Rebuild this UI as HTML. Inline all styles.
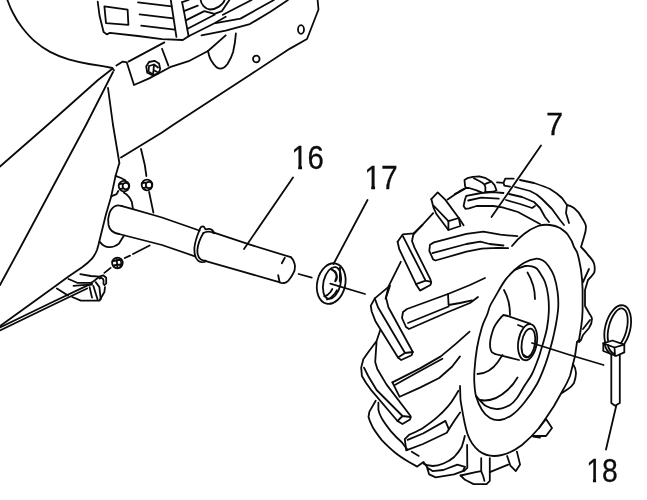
<!DOCTYPE html>
<html>
<head>
<meta charset="utf-8">
<title>Parts diagram</title>
<style>
html,body{margin:0;padding:0;background:#fff;}
body{width:647px;height:500px;overflow:hidden;font-family:"Liberation Sans",sans-serif;}
svg{display:block;}
text{font-family:"Liberation Sans",sans-serif;fill:#0a0a0a;stroke:#0a0a0a;stroke-width:0.25px;}
</style>
</head>
<body>
<svg width="647" height="500" viewBox="0 0 647 500">
<rect x="0" y="0" width="647" height="500" fill="#ffffff"/>
<g fill="none" stroke="#0a0a0a" stroke-width="1.8" stroke-linecap="round" stroke-linejoin="round">

<!-- ===== MACHINE BODY (upper left) ===== -->
<g id="machine">
<path d="M7.4,0 C9,4.5 10.8,9 13,13 C15.5,18 18.5,23 22.3,27.8 C26,32.5 30,37.5 35.3,41.7 C39.5,45.5 44.5,49 50.1,51.9 C56,55 62,57.5 68.6,59.4 C75,61.2 82,62.8 89,64 L102.8,66.2 L112.4,68 L114,70.4"/>
<path d="M116.4,65.6 L122.8,61.6 L126.8,62.4 L132.4,80 L134,85 L149.2,78.4 L170,67.2 L188.6,61.2 L208,51 L225.7,35.3"/>
<path d="M128.4,61.6 L164.4,42.4"/>
<path d="M162,48.8 L168.4,65.6"/>
<path d="M112.4,68.8 L98,80 L47.5,125 L0,166.5"/>
<path d="M113,72 L86,125 L19,250 L0,285"/>
<path d="M108,88 L113,125 L119.4,163 L118.3,166.5 L115.6,175.8 L111.2,196.4 L105.8,215 L98.4,245 L97,250 C95.5,254 94,256 92,258.7 C89,262 86,264.5 82.1,267.3 L68.5,276.6 L50,290 L7.4,320.8 L0,326"/>
<path d="M115.6,175.8 L121,178 L125.3,180.2 M111.2,196.4 L116.6,194.2 L118.3,191"/>
<path d="M121,157.5 L162,132.5 L173,125 L249.8,75 L290,48.6 L307,39 L318.5,9.5 L317.6,0"/>
<path d="M141,149 L144.8,165 L146.4,176 M149.1,192 L153.4,212.6"/>
<circle cx="256.3" cy="59" r="3.3"/>
<ellipse cx="301" cy="29.5" rx="3" ry="4.3"/>
<!-- engine box -->
<path d="M97.7,1.6 L99.6,16 L103.6,32 L106.8,34.4 L110,32.8 L138,36 L162,39.2 L182.8,40 L188.6,36.2"/>
<path d="M104.4,6.4 L127.6,9.6 L128.4,24.8 L106,23.2 Z"/>
<path d="M138,2.4 L171.6,6.4 M139.6,14.4 L173.2,18.4 M141.2,25.6 L174.8,29.6"/>
<path d="M170.8,0 L176.4,36.8"/>
<path d="M182,1.9 L183.9,11.1 L188.6,36.2"/>
<path d="M183,1.9 L188.6,0 M183.9,11.1 L197.8,5.6 M185.8,20.4 L204.3,11.1 L214.5,13.9 M187.6,28.8 L214.5,14.8 M188.6,36.2 L214.5,23.2 L225.7,16.7"/>
<path d="M200.6,0 C201,4 205,9 210,9.5 C216,9.5 223,5 224.7,0"/>
<path d="M214.5,13.9 L221.9,11.1 L229.4,0"/>
<path d="M222.9,14.8 L251.6,0"/>
<path d="M215.5,23.2 L240.5,18.6 L273.9,0"/>
<path d="M201.5,35.3 L225.7,30.6 L249.8,24.1 L270,12 L288,0"/>
<path d="M208,51 C209,56 210,59 211.7,61.2 C214,65 217,68.5 220.1,68.7 C223,68.5 226,66 227.5,64 C230,60 232,56 233.1,52 C234.5,46 235.5,40 235.9,33.4"/>
<!-- bolt 1 -->
<path d="M149,62 L154.5,60.8 L159,63.5 L160.2,69 L158.3,73.5 L152.5,75.2 L147.3,72.8 L146.2,66.5 Z"/>
<path d="M149,66 L154,64.5 L158,67.5 M149,66 L148.5,71.5 L153,74.5 M154,64.5 L153.5,70 L153,74.5 M153.5,70 L158,72.5"/>
</g>

<!-- ===== SHAFT 16 ===== -->
<g id="shaft">
<path d="M122,206.1 C119,205.3 118,205.2 116.6,205.6 C113,206.5 111,209 109.5,213 C108,217 107.8,221 108.5,225 C109.5,230 113,233 119,234"/>
<path d="M122,206.1 L132.9,209.2 L162,217.5 L199.3,230.5"/>
<path d="M119,234 L162,245 L195,256.3"/>
<path d="M212.4,232.2 L250,244.6 L290.8,257.2"/>
<!-- collar -->
<path d="M199.3,230.5 C197.5,235 194.8,242 194.4,248 C194.2,254 195.5,258.5 198,260.6 C200,262.3 203.5,262.6 205.8,261.2"/>
<path d="M203.4,233 C201,237 197.8,244 197.4,250 C197.2,255 198.6,258 201,259.6 C202.5,260.5 204.5,260.8 205.8,260.6"/>
<path d="M199.6,230.6 C199.8,228 201.2,226.3 203.2,226.3 C205,226.6 204.6,229.6 206,229.4 C208,228.6 210.5,228.8 212,230 C213,231 213.8,232 214.2,233.2"/>
<path d="M203.4,233 C206,231.5 210,231 214.2,233.2"/>
<path d="M205.8,261.2 L240,270.8 L280,282.4"/>
<path d="M290.8,257.2 C293,259 294.5,262 295,266.2 C295,270 294.3,272 293.2,273.4 C292,276 290,278.5 288.4,280.6 C287,282 285.5,283 284.2,283 C282.5,283.2 281,283 280,282.4"/>
<path d="M284.8,257.8 L281.8,263.2 M278.2,275.2 L279.4,281.2"/>
<path d="M298.6,274 L311.8,277.6"/>
<path d="M123.7,192.6 C126,194 127.5,195 128.5,196.4 C130,198 131,200 131.8,201.8 L132.9,208.3"/>
<path d="M100,242 C104,248 112,249 119,243.6 L124,235.6"/>
<g id="bolts">
<circle cx="124" cy="186.1" r="5.3"/><circle cx="125.8" cy="186.1" r="3.2"/><path d="M119.6,184 L122.6,183.6 M120,189 L122.8,188.6"/>
<circle cx="147" cy="185" r="5.3"/><circle cx="149" cy="185" r="3.2"/><path d="M142.6,183 L145.8,182.6 M143,188 L146,187.6"/>
<circle cx="117.4" cy="263" r="5.3"/><path d="M113,261 L121.5,259.5 M113.5,265.5 L122,264 M116.5,258 L117.5,268 M119.5,258.5 C121.5,261 121.5,265 120,267.5"/>
</g>
<path d="M124.8,258 L130,255.6 M133,254 L149.6,245.5"/>
<path d="M110.6,267.9 L104.4,272.9"/>
<!-- small part bottom-left -->
<path d="M80.3,274.1 L90.8,276 L99.4,276.6 L103.2,275.3 L106.2,277.8 L106.2,283.4 L104.4,285.2"/>
<path d="M68.5,279 L77.2,282.8 L90.8,282.8 L93.3,281.5 L99.4,276.6"/>
<path d="M56.9,288.5 L68,295.5"/>
<path d="M72.2,297 L80.9,300.7 L99.4,300.7 L104.4,292 L105,287.1"/>
<path d="M89.6,287.1 L92,297.6 M93.3,285.8 L97.6,299.4 M95.7,282.1 L99.4,287.1 L100.7,299.4"/>
<path d="M73.5,285.8 L82.1,285.2 L92,284.6"/>
<path d="M99.5,278.5 C101,277.5 103,278 103.5,280 L103.5,284"/>
<path d="M0,327.5 L50,303.2 L87.1,285.6 L92,283.6 M0,330.4 L50,306.2 L87.1,288.5"/>
</g>


<!-- ===== LEADERS ===== -->
<g id="leaders">
<path d="M293,177.5 L244,249"/>
<path d="M367.5,200 L333.5,264"/>
<path d="M541,145.5 L491.5,217"/>
<path d="M616.3,405.5 L606,449.5"/>
</g>

<!-- ===== RING 17 ===== -->
<g id="ring">
<ellipse cx="331.2" cy="283.6" rx="14" ry="20.6" transform="rotate(13 331.2 283.6)"/>
<ellipse cx="332" cy="283" rx="8.6" ry="16.2" transform="rotate(13 332 283)"/>
<path d="M340,267.5 L339.8,281.5"/>
<path d="M331.4,269.3 C334,270.5 335.5,272 336.3,274 C337,276 336.8,279 335.3,281.2" stroke-width="2.2"/>
<path d="M324.3,296.3 C326,296 329,294 330.5,292 L332.3,289"/>
<path d="M327,299.5 C330,298.5 333,296 335,293.5 L337,290.2"/>
<path d="M330.3,283.6 L365,294"/>
</g>

<!-- ===== WHEEL 7 ===== -->
<g id="wheel">
<!-- lug A -->
<path d="M482.1,192.6 L476.6,190.3 L469.1,188 L465.9,188 L465,185.6 L464.5,180 L467.3,178.2 L472.8,176.8 L479.3,176.3 L485.8,178.2 L491.4,181.5 L494.6,185.2 L496.5,190.3 L493.3,191.7 L484.9,192.1"/>
<path d="M473.8,178.2 L479.3,181 C481.5,182 483,183 484,184.2 C485,185.3 485.3,186.5 485.4,187.5 L485.4,191.7 M485.4,183.8 L490.5,181.9"/>
<path d="M455,193.8 L458,192.6 L464.5,188.9"/>
<path d="M497,182.4 L503.5,182.8 L505.3,178.7 L513.7,178.7 M503.5,182.8 L504.4,185.6 L510,186.6"/>
<!-- lug B -->
<path d="M431.3,199.1 L437.7,192.4 L445.2,199.6 L458.8,218 L463.6,225.2"/>
<path d="M431.3,199.1 L433.5,207.6 L436.4,214 L448.4,230 L460.4,226 L458.8,218 L448.4,221.2 L434,206"/>
<path d="M448.4,221.2 L448.4,230"/>
<path d="M433.2,213.2 L414,234"/>
<path d="M447.6,199.6 L460.4,190.8 L465.2,188.4"/>
<!-- lug C -->
<path d="M397.6,241.8 L402.9,234.3 L413.6,233.3 L422.4,225"/>
<path d="M397.6,241.8 L399.2,249 L416,284.2 L420,290.6 L430.4,285 L431.2,282.6 L430.4,279.4 L414.4,247.4 L412,241 L413.6,233.3"/>
<path d="M402.9,236.2 L425.6,280.6 L431.2,281.8 M416,284.2 L425.6,280.6"/>
<path d="M400.8,261.8 L388.8,285.8 L385.6,298.6"/>
<!-- lug D -->
<path d="M390,285.6 L374.8,298.4 L370.8,305.6 L371.6,311.2 L375.6,321.6 L398,357.6 L401.2,360 L411.6,355.2 L412.8,352 L388.4,307.2 L386,297.6 L390,285.6"/>
<path d="M374.8,298.4 L378,307.2 L405,353 L412.8,352 M398,357.6 L405,353"/>
<!-- lug E -->
<path d="M380.1,330.5 L376.6,341 L368.2,352.2 L363.3,359.2 L361.2,367.6 L361.9,376 L366.1,383 L370.8,389.6 L397.5,421 L402.5,424 L410,419.5 L410.8,417 L410,415.2 L386.4,384.4 L377.3,369 L375.2,362 L376.6,341"/>
<path d="M364,367.6 L368.2,376 L376.6,390 L402.5,416 L410.5,417 M397.5,421 L402.5,416"/>
<!-- tire top outline -->
<path d="M520,180 L534,183 C540,185 546,187 550,189 C555,192 559,195 562,198 L567,205 L566,213 L569,223"/>
<path d="M515,187 L530,191 C535,193 539,196 542,199 L552,209 L560,220 L564,225"/>
<path d="M509,194 L522,197 L534,202 L540,208 L545,217 L549,222"/>
<path d="M506,200 L520,204 L532,208 L535,206"/>
<path d="M567,205 C570,205.5 572,206.5 574,208 C578,211 580,214 582,218 C584,221 586,224 586,227 C586,231 585,234 584,237 L581,247 C584,250 586,252 588,255 C591,258 594,262 594.4,265 C595,269 595,271 594,273 C592,276 590,278 588,280 L585,290 L585,306 L589,313 C591,316 592,317 592,319 C592,323 591,325 589,328 L583,335 L581,340 L579,342"/>
<path d="M589,269 L583,282 M590,320 L583,329"/>
<path d="M573,364 C575,367 576,370 576,373 C576,377 575,380 574,383 C572,386 570,388 568,389 L562,393"/>
<path d="M539,428 L546,419 L552,428 L546,436 L533,436"/>
<!-- tire sidewall arc -->
<path d="M512,246 C516,241 520,237 524,234 C529,230 534,227.5 538,226 C542,224.8 546,224.5 550,225 C554,225.5 557,226.5 560,228 C563,230 566,232 568,235 C571,239 573,243 574,247 L577,252 C579,258 580,264 581,270 C582,277 582.5,283 582.6,290 L582.6,310 C582.5,316 582,322 581,328 L579,340 L577,342 L575,356 L573,364 L570,376 C568,381 566,385 563,390 L554,406 L546,418 L539,428 C534,434 528,440 522,445 C514,451 504,456 494,456 C488,456 483,454 479,451 C474,447 470,441 467.5,434 C464.5,425 462.5,412 460.5,400 L460,386"/>
<!-- rim -->
<path d="M535.4,258.8 C532.3,259.2 527.7,260.9 524.2,262.8 C520.7,264.7 517.8,267.1 514.6,270.0 C511.4,272.9 508.2,276.0 505.0,280.4 C501.8,284.8 497.9,292.1 495.4,296.4 C492.9,300.7 491.3,303.1 490.0,306.0 C488.7,308.9 488.7,310.5 487.4,314.0 C486.1,317.5 483.7,321.3 482.0,327.0 C480.3,332.7 478.2,340.8 477.0,348.0 C475.8,355.2 474.9,364.3 474.5,370.0 C474.1,375.7 474.1,377.7 474.3,382.0 C474.6,386.3 474.7,391.3 476.0,396.0 C477.3,400.7 479.7,406.3 482.0,410.0 C484.3,413.7 487.0,416.3 490.0,418.0 C493.0,419.7 496.3,420.5 500.0,420.0 C503.7,419.5 508.0,417.8 512.0,415.0 C516.0,412.2 519.8,408.2 524.0,403.0 C528.2,397.8 533.4,390.5 537.0,384.0 C540.6,377.5 543.2,370.3 545.5,364.0 C547.8,357.7 549.7,350.7 551.0,346.0 C552.3,341.3 552.7,339.7 553.5,336.0 C554.3,332.3 555.2,328.7 556.0,324.0 C556.8,319.3 557.9,313.3 558.2,308.0 C558.5,302.7 558.3,297.3 557.6,292.0 C556.9,286.7 555.5,280.3 554.0,276.0 C552.5,271.7 550.3,268.6 548.5,266.0 C546.7,263.4 545.2,261.7 543.0,260.5 C540.8,259.3 538.5,258.4 535.4,258.8 Z"/>
<path d="M514.6,270.0 C516.5,269.3 522.3,266.4 525.8,266.0 C529.3,265.6 533.0,266.4 535.4,267.6 C537.8,268.8 538.4,270.6 540.0,273.0 C541.6,275.4 543.6,278.2 545.0,282.0 C546.4,285.8 547.6,291.0 548.2,296.0 C548.8,301.0 549.0,306.7 548.8,312.0 C548.6,317.3 547.8,323.3 547.0,328.0 C546.2,332.7 545.0,336.3 544.0,340.0 C543.0,343.7 541.9,347.0 541.0,350.0 C540.1,353.0 540.0,354.0 538.5,358.0 C537.0,362.0 534.4,369.2 532.0,374.0 C529.6,378.8 526.5,382.5 524.0,386.5 C521.5,390.5 519.3,394.9 517.0,398.0 C514.7,401.1 513.2,403.2 510.0,405.0 C506.8,406.8 502.0,408.8 498.0,409.0 C494.0,409.2 489.7,408.2 486.0,406.0 C482.3,403.8 477.7,397.7 476.0,396.0"/>
<path d="M504,290 C508,297 510,305 510,315"/>
<path d="M527.5,272.5 C532,280 535,290 535,299"/>
<path d="M480,400 C490,402 500,397 507.5,390 C512,386 515,382 517.5,377.5"/>
<path d="M477.5,374 C485,374 493,369 497.5,362.5 L502.5,355"/>
<!-- hub -->
<path d="M501,317.4 L503.4,315 L508,316 L530,323.6 M495,354 L519,360"/>
<path d="M501,317.4 C497,322 494,327 493,330 C491,336 490,340 490,344 C490,348 491,351 492,352.3 L495,354"/>
<ellipse cx="527.6" cy="342.2" rx="9.3" ry="18.2" transform="rotate(9 527.6 342.2)"/>
<ellipse cx="528.4" cy="343" rx="6.6" ry="14.6" transform="rotate(9 528.4 343)"/>
<path d="M524,355 C526,357.5 529,357.5 531,354.5"/>
<path d="M518,325 L523,327"/>
<path d="M532,343 L570,355 L603.6,365"/>
<!-- grooves -->
<path d="M503.5,193 L493.3,192.1 L481.2,193 L466.3,195.8 L465,199.5 L463.6,206 L465.4,208.8 L469.1,208.4 L476.6,206 L493.3,206 L502.5,207.4 L518,212 L540,224"/>
<path d="M468.2,200.5 L481.2,197.7 L498.8,198.6"/>
<path d="M508.1,248.1 L497.3,247.8 L481.8,248.6 L466.4,251.7 L435.5,260.5 L433.1,259.4 L429.3,250.9 L430,244.7 L433.9,242.4 L466.4,233.9 L483.4,231.6 L500.4,234.7 L517.4,236.2"/>
<path d="M432.4,253.2 L466.4,244 L480.3,241.6 L489.6,244 L503.5,245.5"/>
<path d="M485,278 L470,285 L448,294 L407,309 L403,312 L402,318 L406,327 L409,329 L448,312 L470,303 L478,297"/>
<path d="M408,323 L448.6,306.5 M448,294 L448.6,305 L460,303 L472,300.3"/>
<path d="M392.4,382.4 L420,368.4 L440.8,356.4 L455.2,344.4 L469.6,331.6"/>
<path d="M394.8,385 L420,371 L442.4,358.8"/>
<path d="M392.4,382.4 L399.6,396.8 L420,387.6 L439.2,378 L452,366.8 L460,356.4"/>
<!-- groove 5 -->
<path d="M458.4,390.8 L455.9,395 C453,400 451,403 448.2,406.2 C445,410 441,414 437,417.4 C433,421 428,424.5 423,427.9 C418,431 413,433 409,434.9 L404.8,439.1 L406.2,450.3 L423,444 L446.8,432.8 L448.9,429.3 L445.4,420.9 L423,433.5 L407.6,439.8"/>
<path d="M448.9,429.3 L455.2,419.5 L460.1,412.5"/>
<path d="M411.8,451.7 L418.8,455.9"/>
<!-- tread lines -->
<path d="M464.8,436 C464,440 463,443 461.7,447 C460,450 457,454 454.2,457 C451,460 447,462 443.5,463.5 C440,465 436,466 432.6,466 C429,465.6 426,465 423.5,463.8"/>
<!-- bottom left tire outline -->
<path d="M375.7,400.8 L369.4,411.6 L368.5,417 C369.5,421 371,424 373,427.8 C375.5,432 378.5,436 382,440.4 C386,444.5 390,448.5 394.6,452.2 C399,455.8 404,459 409,462 L417.2,466.6 L423.5,462 L425.3,464.8 L427,466.5"/>
<path d="M378.4,402.6 L378.4,409.8 C379,413 380.5,416 382,418.8 C384.5,423 387.5,427 391,431.4 C394.5,435.5 398,439 401.8,442.2 L407.3,449.5"/>
<!-- bottom lugs -->
<path d="M427,467.5 L429.2,474.4 L435.7,477.4 L454.1,474.4 L462.8,471.1 L465,466.8 L457.4,464.6 L443.3,470 L432.5,471.1 Z"/>
<path d="M467.1,445 L467.3,467.9 L463.9,471.1"/>
<path d="M460.6,475.5 L465,479.8 L473.6,484.1 L486.6,484.1 L489.8,480.9 L489.8,458.1"/>
<path d="M460.6,475.5 L475.8,472.2 L481.2,471.1 M481.2,458.1 L481.2,471.1 L483.3,476.5 L484.4,480.9"/>
<path d="M507.1,456 L510.4,465.7 L515.8,471.1 L520.1,464.6 L516.9,451.6"/>
<path d="M489.8,472.2 L508.2,464.6"/>
<path d="M533.1,436.5 L540,437.6"/>
</g>

<!-- ===== PIN 18 ===== -->
<g id="pin">
<ellipse cx="617.7" cy="328.3" rx="12.5" ry="23.5" transform="rotate(14 617.7 328.3)"/>
<ellipse cx="617.7" cy="328.3" rx="9" ry="20.3" transform="rotate(14 617.7 328.3)"/>
<path d="M603.3,343.3 L612.4,340.5 L624.3,344.7 L624.3,352.4 L616,356 L603.3,351 Z" fill="#fff"/>
<path d="M603.3,343.3 L614.5,347.5 L624.3,344.7 M614.5,347.5 L615,355.6"/>
<path d="M604.5,343.8 C605.5,348 607.5,352 611,354.2 M607.8,345 C608.5,348.5 610,351.5 613.5,353.5"/>
<path d="M611.3,355 L611.3,403 L615,405.7 L619.8,403 L619.8,355"/>
</g>
</g>
<g id="labels" style="opacity:0.99;will-change:transform;">
<text transform="translate(291.2,168.8) scale(0.97,1.115)" font-size="30.4">16</text>
<text transform="translate(364.3,188.9) scale(0.987,1.09)" font-size="30.4">17</text>
<text transform="translate(546,135.4) scale(1.016,1.019)" font-size="30.4">7</text>
<text transform="translate(586.2,482.2) scale(0.935,1.075)" font-size="30.4">18</text>
<g fill="#ffffff" stroke="none">
<rect x="291.5" y="165.4" width="6.7" height="5"/><rect x="302.05" y="165.4" width="5.6" height="5"/>
<rect x="364.5" y="185.4" width="6.7" height="5"/><rect x="375.05" y="185.4" width="6" height="5"/>
<rect x="586.5" y="478.4" width="6.45" height="5"/><rect x="596.05" y="478.4" width="5.5" height="5"/>
</g>
</g>
</svg>
</body>
</html>
